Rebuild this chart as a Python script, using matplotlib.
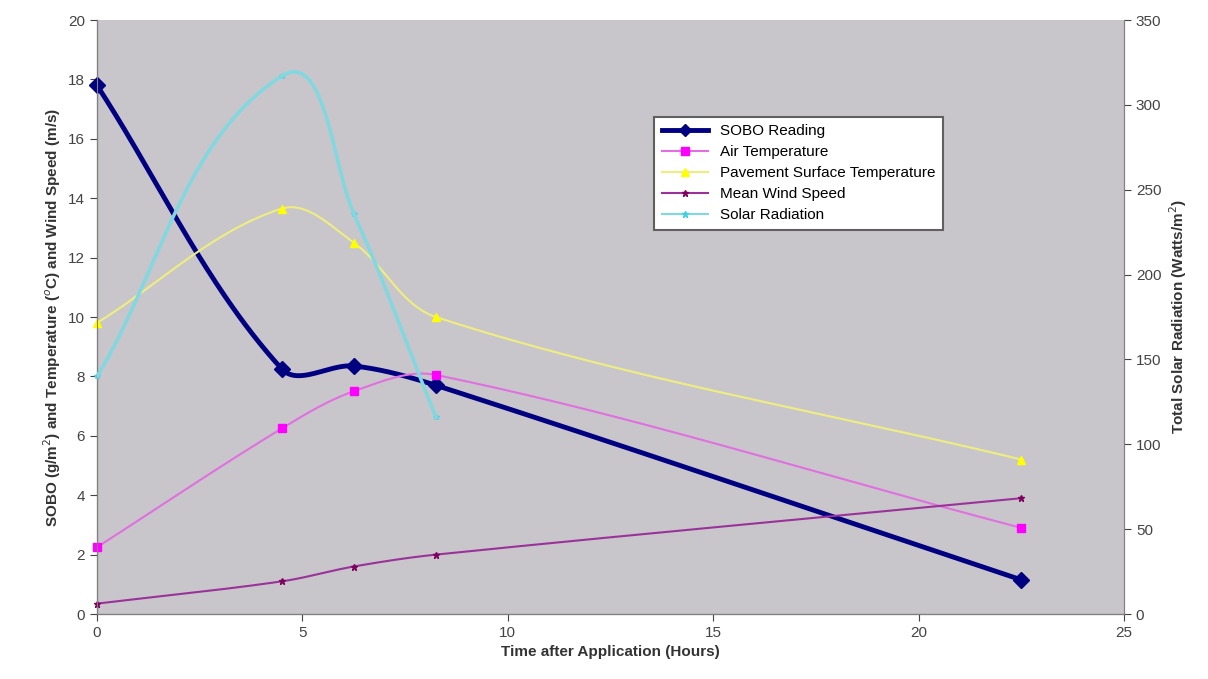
import numpy as np
import matplotlib
matplotlib.use("Agg")
import matplotlib.pyplot as plt
from matplotlib.lines import Line2D

plt.rcParams['font.family'] = ['Liberation Sans', 'DejaVu Sans']

# values
hours = [0, 4.5, 6.25, 8.25, 22.5]
sobo = [17.8, 8.25, 8.35, 7.7, 1.15]
air_temp = [2.25, 6.25, 7.5, 8.05, 2.9]
pave_temp = [9.8, 13.65, 12.5, 10.0, 5.2]
wind = [0.35, 1.1, 1.6, 2.0, 3.9]
solar_hours = [0, 4.5, 6.25, 8.25]
solar = [140, 317, 236, 116]


def smooth(x, y, sx, sy, n=60):
    # smoothed line through the points, bezier with tangents worked out in screen units
    p = np.column_stack([np.asarray(x, float) * sx, np.asarray(y, float) * sy])
    k = len(p)
    tang = []
    for i in range(k):
        d = p[min(i + 1, k - 1)] - p[max(i - 1, 0)]
        tang.append(d / np.hypot(*d))
    t = np.linspace(0, 1, n)[:, None]
    out = []
    for i in range(k - 1):
        L = np.hypot(*(p[i + 1] - p[i])) / 3
        c1 = p[i] + tang[i] * L
        c2 = p[i + 1] - tang[i + 1] * L
        out.append((1-t)**3*p[i] + 3*(1-t)**2*t*c1 + 3*(1-t)*t**2*c2 + t**3*p[i+1])
    out = np.vstack(out)
    return out[:, 0] / sx, out[:, 1] / sy


fig = plt.figure(figsize=(12.08, 6.79), dpi=100)
ax = fig.add_axes([0.0803, 0.0957, 0.8502, 0.8748])
ax.set_facecolor('#c8c6ca')
ax2 = ax.twinx()

# pixels per data unit, used only to shape the smoothed curves
px_x = 1027 / 25
px_left = 594 / 20
px_right = 594 / 350

series = [
    (sobo, 'SOBO Reading', '#000080', '#000080', 'D', 8, 3.5),
    (air_temp, 'Air Temperature', '#e070e0', '#ff00ff', 's', 6, 1.5),
    (pave_temp, 'Pavement Surface Temperature', '#eeee80', '#ffff00', '^', 6, 1.5),
    (wind, 'Mean Wind Speed', '#993399', '#800060', '*', 5, 1.5),
]
handles = []
for vals, name, lc, mc, mk, ms, lw in series:
    cx, cy = smooth(hours, vals, px_x, px_left)
    ax.plot(cx, cy, color=lc, lw=lw, zorder=3)
    ax.plot(hours, vals, ls='none', marker=mk, color=mc, ms=ms, zorder=4, clip_on=False)
    handles.append(Line2D([], [], color=lc, lw=lw, marker=mk, mfc=mc, mec=mc,
                          ms=min(ms, 6)))

cx, cy = smooth(solar_hours, solar, px_x, px_right)
ax2.plot(cx, cy, color='#80d8e0', lw=2.5, zorder=3)
ax2.plot(solar_hours, solar, ls='none', marker='*', color='#60d0e0', ms=4, clip_on=False)
handles.append(Line2D([], [], color='#80d8e0', lw=1.5, marker='*', mfc='#40d0e0', mec='#40d0e0', ms=5))

ax.set_xlim(0, 25)
ax.set_ylim(0, 20)
ax2.set_ylim(0, 350)
ax.set_xticks(range(0, 26, 5))
ax.set_yticks(range(0, 21, 2))
ax2.set_yticks(range(0, 351, 50))

for a in (ax, ax2):
    a.tick_params(labelsize=11, colors='#444444', length=5)
    for s in a.spines.values():
        s.set_color('#808080')
ax.spines['left'].set_color('#000000')
ax.spines['bottom'].set_color('#000000')
ax.spines['top'].set_visible(False)
ax2.spines['top'].set_visible(False)

ax.set_xlabel('Time after Application (Hours)', fontsize=11, fontweight='bold', color='#333333')
ax.set_ylabel('SOBO (g/m$^2$) and Temperature ($^o$C) and Wind Speed (m/s)',
              fontsize=11, fontweight='bold', color='#333333')
ax2.set_ylabel('Total Solar Radiation (Watts/m$^2$)', fontsize=11, fontweight='bold', color='#333333')

leg = ax2.legend(handles, [s[1] for s in series] + ['Solar Radiation'],
                 loc='upper left', bbox_to_anchor=(0.535, 0.85), fontsize=11,
                 fancybox=False, framealpha=1, edgecolor='#606060',
                 handlelength=3, labelspacing=0.45, borderpad=0.5)
leg.get_frame().set_linewidth(1.5)

fig.savefig('out.png', dpi=100)
